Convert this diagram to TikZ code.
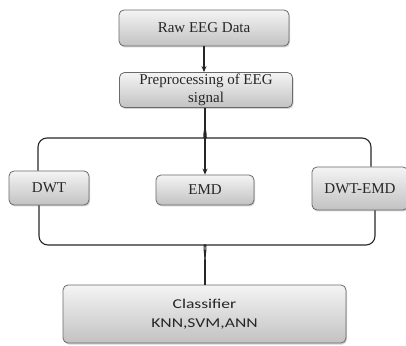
\documentclass[tikz,border=0pt]{standalone}
\usepackage{fontspec}
\setmainfont{Liberation Serif}
\newfontfamily\sansfont[FakeStretch=1.3]{Carlito}
\usetikzlibrary{shadows,arrows.meta}

\begin{document}
\begin{tikzpicture}[x=1pt, y=1pt]
    \definecolor{borderColour}{HTML}{6A6A6A}
    \definecolor{topColour}{HTML}{F4F4F4}
    \definecolor{bottomColour}{HTML}{C2C2C2}
    \definecolor{textColour}{HTML}{262626}

    \tikzset{
        stageBox/.style={draw=borderColour, line width=0.8pt, rounded corners=5pt,
            top color=topColour, bottom color=bottomColour,
            drop shadow={opacity=0.35, shadow xshift=1pt, shadow yshift=-1.5pt},
            inner sep=0pt, align=center, text=textColour, font=\fontsize{15}{18}\selectfont},
        flowLine/.style={line width=1.1pt, black!85},
        flowArrow/.style={flowLine, -{Stealth[length=6pt, width=5pt]}}
    }

    \useasboundingbox (0,0) rectangle (406,345);

    % Draw stage boxes
    \node[stageBox, minimum width=170, minimum height=36] (raw) at (204,317) {Raw EEG Data};
    \node[stageBox, minimum width=173, minimum height=35] (pre) at (206,255) {Preprocessing of EEG\\signal};
    \node[stageBox, minimum width=80, minimum height=34] (dwt) at (49,157) {DWT};
    \node[stageBox, minimum width=98, minimum height=30] (emd) at (205,155) {EMD};
    \node[stageBox, minimum width=96, minimum height=43] (dwtemd) at (360,156.5) {DWT-EMD};
    \node[stageBox, minimum width=283, minimum height=58,
        font=\sansfont\fontsize{13.5}{19}\selectfont] (cls) at (204.5,31) {Classifier\\KNN,SVM,ANN};

    % Tips of the two braces
    \coordinate (topTip) at (205,220);
    \coordinate (bottomTip) at (205,85);

    % Arrows
    \draw[flowArrow] (raw.south) -- (raw.south |- pre.north);
    \draw[flowArrow] (emd.north |- pre.south) -- (emd.north);

    % Upper brace
    \draw[flowLine, rounded corners=9pt] ([xshift=-11pt]dwt.north) |- (196,207) to[out=0, in=-90] (topTip);
    \draw[flowLine, rounded corners=9pt] ([xshift=11pt]dwtemd.north) |- (214,207) to[out=180, in=-90] (topTip);

    % Lower brace
    \draw[flowLine, rounded corners=9pt] ([xshift=-10pt]dwt.south) |- (196,100) to[out=0, in=90] (bottomTip);
    \draw[flowLine, rounded corners=9pt] ([xshift=15pt]dwtemd.south) |- (214,100) to[out=180, in=90] (bottomTip);
    \draw[flowLine] (bottomTip) -- (bottomTip |- cls.north);

\end{tikzpicture}
\end{document}
